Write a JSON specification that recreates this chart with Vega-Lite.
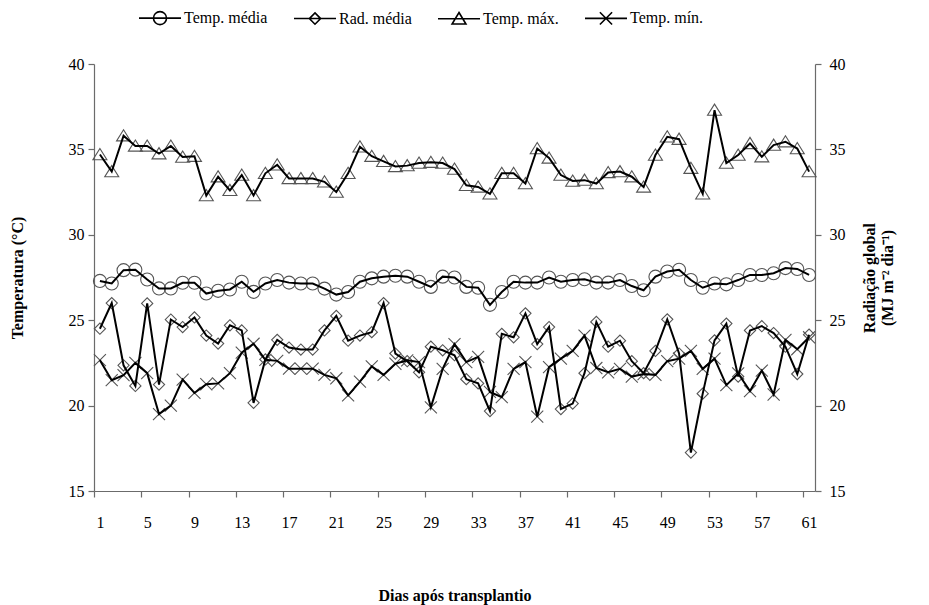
{
  "$schema": "https://vega.github.io/schema/vega-lite/v6.json",
  "width": 721,
  "height": 427,
  "autosize": {"type": "none"},
  "padding": {"left": 94, "top": 64, "right": 114, "bottom": 114},
  "background": "white",
  "config": {
    "font": "Liberation Serif",
    "view": {"stroke": null},
    "axis": {
      "grid": false,
      "domainColor": "#6b6b6b",
      "domainWidth": 1.2,
      "tickColor": "#6b6b6b",
      "tickWidth": 1.2,
      "labelFont": "Liberation Serif",
      "labelFontSize": 16,
      "labelColor": "black",
      "titleFont": "Liberation Serif",
      "titleFontSize": 16,
      "titleFontWeight": "bold",
      "titleColor": "black"
    }
  },
  "data": {
    "values": [
      {"dia": 1, "tmed": 27.3, "rad": 24.5, "tmax": 34.7, "tmin": 22.66},
      {"dia": 2, "tmed": 27.15, "rad": 26.0, "tmax": 33.7, "tmin": 21.49},
      {"dia": 3, "tmed": 27.93, "rad": 22.36, "tmax": 35.8, "tmin": 21.78},
      {"dia": 4, "tmed": 27.96, "rad": 21.15, "tmax": 35.2, "tmin": 22.5},
      {"dia": 5, "tmed": 27.38, "rad": 25.98, "tmax": 35.2, "tmin": 21.9},
      {"dia": 6, "tmed": 26.86, "rad": 21.23, "tmax": 34.75, "tmin": 19.5},
      {"dia": 7, "tmed": 26.86, "rad": 25.04, "tmax": 35.2, "tmin": 20.0},
      {"dia": 8, "tmed": 27.19, "rad": 24.6, "tmax": 34.55, "tmin": 21.52},
      {"dia": 9, "tmed": 27.19, "rad": 25.16, "tmax": 34.6, "tmin": 20.74},
      {"dia": 10, "tmed": 26.56, "rad": 24.1, "tmax": 32.3, "tmin": 21.25},
      {"dia": 11, "tmed": 26.72, "rad": 23.63, "tmax": 33.4, "tmin": 21.3},
      {"dia": 12, "tmed": 26.8, "rad": 24.7, "tmax": 32.6, "tmin": 21.9},
      {"dia": 13, "tmed": 27.25, "rad": 24.4, "tmax": 33.5, "tmin": 23.1},
      {"dia": 14, "tmed": 26.66, "rad": 20.16, "tmax": 32.3, "tmin": 23.62},
      {"dia": 15, "tmed": 27.15, "rad": 22.7, "tmax": 33.6, "tmin": 22.68},
      {"dia": 16, "tmed": 27.35, "rad": 23.85, "tmax": 34.1, "tmin": 22.62},
      {"dia": 17, "tmed": 27.2, "rad": 23.4, "tmax": 33.3, "tmin": 22.16},
      {"dia": 18, "tmed": 27.15, "rad": 23.28, "tmax": 33.3, "tmin": 22.16},
      {"dia": 19, "tmed": 27.15, "rad": 23.28, "tmax": 33.3, "tmin": 22.16},
      {"dia": 20, "tmed": 26.85, "rad": 24.4, "tmax": 33.1, "tmin": 21.8},
      {"dia": 21, "tmed": 26.5, "rad": 25.25, "tmax": 32.5, "tmin": 21.6},
      {"dia": 22, "tmed": 26.65, "rad": 23.8, "tmax": 33.6, "tmin": 20.6},
      {"dia": 23, "tmed": 27.25, "rad": 24.1, "tmax": 35.15, "tmin": 21.4},
      {"dia": 24, "tmed": 27.45, "rad": 24.3, "tmax": 34.6, "tmin": 22.3},
      {"dia": 25, "tmed": 27.55, "rad": 26.0, "tmax": 34.3, "tmin": 21.8},
      {"dia": 26, "tmed": 27.6, "rad": 23.05, "tmax": 34.0, "tmin": 22.45},
      {"dia": 27, "tmed": 27.55, "rad": 22.6, "tmax": 34.05, "tmin": 22.65},
      {"dia": 28, "tmed": 27.25, "rad": 21.95, "tmax": 34.2, "tmin": 22.55},
      {"dia": 29, "tmed": 26.95, "rad": 23.45, "tmax": 34.25, "tmin": 19.9},
      {"dia": 30, "tmed": 27.55, "rad": 23.24, "tmax": 34.2, "tmin": 22.15},
      {"dia": 31, "tmed": 27.5, "rad": 22.95, "tmax": 33.85, "tmin": 23.6},
      {"dia": 32, "tmed": 26.95, "rad": 21.55, "tmax": 32.9, "tmin": 22.55},
      {"dia": 33, "tmed": 26.9, "rad": 21.3, "tmax": 32.8, "tmin": 22.85},
      {"dia": 34, "tmed": 25.9, "rad": 19.68, "tmax": 32.4, "tmin": 20.8},
      {"dia": 35, "tmed": 26.65, "rad": 24.2, "tmax": 33.6, "tmin": 20.5},
      {"dia": 36, "tmed": 27.25, "rad": 24.0, "tmax": 33.6, "tmin": 22.15},
      {"dia": 37, "tmed": 27.2, "rad": 25.4, "tmax": 33.0, "tmin": 22.55},
      {"dia": 38, "tmed": 27.2, "rad": 23.6, "tmax": 35.05, "tmin": 19.35},
      {"dia": 39, "tmed": 27.5, "rad": 24.6, "tmax": 34.5, "tmin": 22.25},
      {"dia": 40, "tmed": 27.25, "rad": 19.8, "tmax": 33.5, "tmin": 22.75},
      {"dia": 41, "tmed": 27.35, "rad": 20.12, "tmax": 33.15, "tmin": 23.2},
      {"dia": 42, "tmed": 27.4, "rad": 21.9, "tmax": 33.2, "tmin": 24.1},
      {"dia": 43, "tmed": 27.2, "rad": 24.9, "tmax": 33.0, "tmin": 22.2},
      {"dia": 44, "tmed": 27.2, "rad": 23.45, "tmax": 33.65, "tmin": 21.95},
      {"dia": 45, "tmed": 27.35, "rad": 23.8, "tmax": 33.7, "tmin": 22.15},
      {"dia": 46, "tmed": 27.0, "rad": 22.6, "tmax": 33.4, "tmin": 21.7},
      {"dia": 47, "tmed": 26.75, "rad": 21.9, "tmax": 32.8, "tmin": 21.85},
      {"dia": 48, "tmed": 27.55, "rad": 23.2, "tmax": 34.67, "tmin": 21.8},
      {"dia": 49, "tmed": 27.85, "rad": 25.05, "tmax": 35.74, "tmin": 22.6},
      {"dia": 50, "tmed": 27.95, "rad": 23.05, "tmax": 35.6, "tmin": 22.75},
      {"dia": 51, "tmed": 27.35, "rad": 17.25, "tmax": 33.9, "tmin": 23.2},
      {"dia": 52, "tmed": 26.9, "rad": 20.7, "tmax": 32.4, "tmin": 22.15},
      {"dia": 53, "tmed": 27.15, "rad": 23.82, "tmax": 37.3, "tmin": 22.75},
      {"dia": 54, "tmed": 27.1, "rad": 24.8, "tmax": 34.2, "tmin": 21.2},
      {"dia": 55, "tmed": 27.35, "rad": 21.7, "tmax": 34.67, "tmin": 21.88},
      {"dia": 56, "tmed": 27.65, "rad": 24.4, "tmax": 35.35, "tmin": 20.85},
      {"dia": 57, "tmed": 27.65, "rad": 24.65, "tmax": 34.57, "tmin": 22.05},
      {"dia": 58, "tmed": 27.75, "rad": 24.25, "tmax": 35.25, "tmin": 20.65},
      {"dia": 59, "tmed": 28.05, "rad": 23.45, "tmax": 35.45, "tmin": 23.85},
      {"dia": 60, "tmed": 28.0, "rad": 21.85, "tmax": 35.05, "tmin": 23.3},
      {"dia": 61, "tmed": 27.65, "rad": 24.15, "tmax": 33.7, "tmin": 24.0}
    ]
  },
  "transform": [
    {"fold": ["tmed", "rad", "tmax", "tmin"], "as": ["serie", "valor"]}
  ],
  "encoding": {
    "x": {
      "field": "dia",
      "type": "quantitative",
      "scale": {"domain": [0.5, 61.5], "nice": false, "zero": false},
      "axis": {
        "values": [1, 5, 9, 13, 17, 21, 25, 29, 33, 37, 41, 45, 49, 53, 57, 61],
        "tickOffset": -5.91,
        "labelOffset": 5.91,
        "tickSize": 6,
        "labelPadding": 17,
        "labelFlush": false,
        "labelOverlap": false,
        "title": "Dias após transplantio",
        "titlePadding": 57
      }
    }
  },
  "layer": [
    {
      "mark": {"type": "point", "filled": false, "size": 196, "strokeWidth": 1.1, "color": "#555555", "opacity": 1},
      "encoding": {
        "y": {
          "field": "valor",
          "type": "quantitative",
          "scale": {"domain": [15, 40], "nice": false, "zero": false},
          "axis": {
            "orient": "left",
            "values": [15, 20, 25, 30, 35, 40],
            "tickSize": 6,
            "labelPadding": 4,
            "title": "Temperatura (°C)",
            "titlePadding": 43
          }
        },
        "shape": {
          "field": "serie",
          "type": "nominal",
          "scale": {
            "domain": ["tmed", "rad", "tmax", "tmin"],
            "range": [
              "M-0.93,0A0.93,0.93 0 1 1 0.93,0A0.93,0.93 0 1 1 -0.93,0Z",
              "M-0.8,0L0,-0.8L0.8,0L0,0.8Z",
              "M0,-0.86L1,0.74L-1,0.74Z",
              "M-0.86,-0.86L0.86,0.86M-0.86,0.86L0.86,-0.86"
            ]
          },
          "legend": null
        }
      }
    },
    {
      "transform": [{"filter": "datum.serie !== 'rad'"}],
      "mark": {"type": "line", "color": "black", "strokeWidth": 2},
      "encoding": {
        "y": {
          "field": "valor",
          "type": "quantitative",
          "scale": {"domain": [15, 40], "nice": false, "zero": false},
          "axis": null
        },
        "detail": {"field": "serie", "type": "nominal"}
      }
    },
    {
      "transform": [{"filter": "datum.serie === 'rad'"}],
      "mark": {"type": "line", "color": "black", "strokeWidth": 2},
      "encoding": {
        "y": {
          "field": "valor",
          "type": "quantitative",
          "scale": {"domain": [15, 40], "nice": false, "zero": false},
          "axis": {
            "orient": "right",
            "values": [15, 20, 25, 30, 35, 40],
            "tickSize": 6,
            "labelPadding": 8,
            "title": ["Radiação global", "(MJ m⁻² dia⁻¹)"],
            "titleAngle": 270,
            "titlePadding": 14
          }
        }
      }
    },
    {
      "mark": {"type": "point", "filled": false, "opacity": 0, "color": "black"},
      "encoding": {
        "y": {
          "field": "valor",
          "type": "quantitative",
          "scale": {"domain": [15, 40], "nice": false, "zero": false},
          "axis": null
        },
        "shape": {
          "field": "serie",
          "type": "nominal",
          "scale": {
            "domain": ["tmed", "rad", "tmax", "tmin"],
            "range": [
              "M-1,0L1,0M-0.31,0A0.31,0.31 0 1 1 0.31,0A0.31,0.31 0 1 1 -0.31,0",
              "M-1,0L1,0M-0.27,0L0,-0.27L0.27,0L0,0.27Z",
              "M-1,0L1,0M0,-0.3L0.33,0.25L-0.33,0.25Z",
              "M-1,0L1,0M-0.29,-0.29L0.29,0.29M-0.29,0.29L0.29,-0.29"
            ]
          },
          "legend": {
            "title": null,
            "orient": "none",
            "legendX": 44,
            "legendY": -68,
            "direction": "horizontal",
            "columns": 4,
            "columnPadding": 22,
            "symbolSize": 1764,
            "symbolStrokeWidth": 1.6,
            "symbolStrokeColor": "black",
            "symbolFillColor": "transparent",
            "symbolOpacity": 1,
            "labelFont": "Liberation Serif",
            "labelFontSize": 16,
            "labelColor": "black",
            "labelOffset": 2,
            "labelExpr": "{'tmed': 'Temp. média', 'rad': 'Rad. média', 'tmax': 'Temp. máx.', 'tmin': 'Temp. mín.'}[datum.value]"
          }
        }
      }
    }
  ],
  "resolve": {"scale": {"y": "independent", "shape": "independent"}}
}
